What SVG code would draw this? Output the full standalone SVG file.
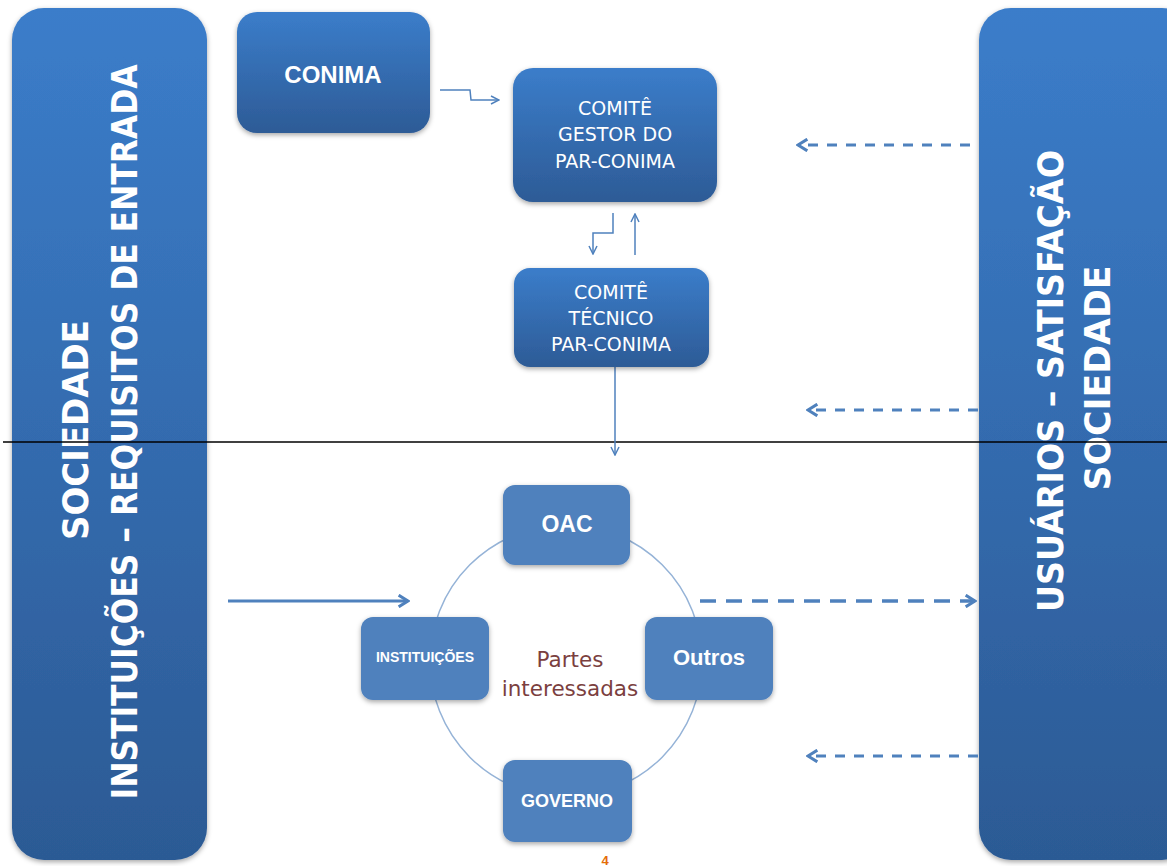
<svg xmlns="http://www.w3.org/2000/svg" width="1167" height="866" viewBox="0 0 1167 866">
<defs>
<linearGradient id="gBig" x1="0" y1="0" x2="0" y2="1">
<stop offset="0" stop-color="#3b7dca"/>
<stop offset="1" stop-color="#2c5a94"/>
</linearGradient>
<linearGradient id="gBox" x1="0" y1="0" x2="0" y2="1">
<stop offset="0" stop-color="#3b7dca"/>
<stop offset="1" stop-color="#2d5b96"/>
</linearGradient>
<filter id="sh" x="-10%" y="-10%" width="120%" height="120%">
<feDropShadow dx="0" dy="2" stdDeviation="2.5" flood-color="#000" flood-opacity="0.35"/>
</filter>
<marker id="open" viewBox="0 0 10 10" refX="9" refY="5" markerWidth="10" markerHeight="10" markerUnits="userSpaceOnUse" orient="auto">
<path d="M1,1 L9,5 L1,9" fill="none" stroke="#4f81bd" stroke-width="1.5"/>
</marker>
<marker id="chev" viewBox="0 0 12 12" refX="10" refY="6" markerWidth="14" markerHeight="14" markerUnits="userSpaceOnUse" orient="auto">
<path d="M2,1 L10,6 L2,11" fill="none" stroke="#4f81bd" stroke-width="2.6" stroke-linejoin="miter"/>
</marker>
</defs>
<style>
.big{fill:url(#gBig);filter:url(#sh)}
.box{fill:url(#gBox);filter:url(#sh)}
.flat{fill:#4f81bd;filter:url(#sh)}
.thin{font-family:"DejaVu Sans","Liberation Sans",sans-serif;font-size:19px;fill:#ffffff;text-anchor:middle;font-weight:normal}
.bold{font-family:"Liberation Sans","DejaVu Sans",sans-serif;font-weight:bold;fill:#ffffff;text-anchor:middle}
.side{font-family:"DejaVu Sans Condensed","DejaVu Sans","Liberation Sans",sans-serif;font-weight:bold;font-size:36px;fill:#ffffff;text-anchor:middle}
.conn{fill:none;stroke:#4f81bd;stroke-width:1.5}
.dash{fill:none;stroke:#4f81bd;stroke-width:3;stroke-dasharray:10 9}
</style>
<g id="panel-left">
<rect class="big" x="12" y="8" width="195" height="852" rx="32"/>
<text class="side" transform="translate(88,430) rotate(-90)" textLength="220" lengthAdjust="spacingAndGlyphs">SOCIEDADE</text>
<text class="side" transform="translate(137,432) rotate(-90)" textLength="735" lengthAdjust="spacingAndGlyphs">INSTITUIÇÕES – REQUISITOS DE ENTRADA</text>
</g>
<g id="panel-right">
<rect class="big" x="979" y="8" width="215" height="852" rx="32"/>
<text class="side" transform="translate(1063,381) rotate(-90)" textLength="462" lengthAdjust="spacingAndGlyphs">USUÁRIOS – SATISFAÇÃO</text>
<text class="side" transform="translate(1110,378) rotate(-90)" textLength="225" lengthAdjust="spacingAndGlyphs">SOCIEDADE</text>
</g>
<line x1="3" y1="442" x2="1167" y2="442" stroke="#000" stroke-width="1.5"/>
<g id="circle">
<circle cx="566" cy="661" r="136" fill="none" stroke="#95b3d7" stroke-width="1.5"/>
</g>
<g id="connectors">
<polyline class="conn" points="440,90 470,90 471,100 499,100" marker-end="url(#open)"/>
<polyline class="conn" points="613,213 613,233 593,233 593,254" marker-end="url(#open)"/>
<polyline class="conn" points="635,255 635,214" marker-end="url(#open)"/>
<polyline class="conn" points="615,367 615,455" marker-end="url(#open)"/>
<line class="dash" x1="970" y1="145" x2="798" y2="145" marker-end="url(#chev)"/>
<line class="dash" x1="978" y1="410" x2="808" y2="410" marker-end="url(#chev)"/>
<line class="dash" x1="978" y1="756" x2="808" y2="756" marker-end="url(#chev)"/>
<line x1="700" y1="601" x2="975" y2="601" fill="none" stroke="#4f81bd" stroke-width="3.5" stroke-dasharray="16 10" marker-end="url(#chev)"/>
<line x1="228" y1="601" x2="408" y2="601" fill="none" stroke="#4f81bd" stroke-width="3" marker-end="url(#chev)"/>
</g>
<g id="conima">
<rect class="box" x="237" y="12" width="193" height="121" rx="20"/>
<text class="bold" x="333" y="83" font-size="24">CONIMA</text>
</g>
<g id="comite-gestor">
<rect class="box" x="513" y="68" width="204" height="134" rx="20"/>
<text class="thin" x="615" y="115">COMITÊ</text>
<text class="thin" x="615" y="141">GESTOR DO</text>
<text class="thin" x="615" y="168">PAR-CONIMA</text>
</g>
<g id="comite-tecnico">
<rect class="box" x="514" y="268" width="195" height="99" rx="16"/>
<text class="thin" x="611" y="299">COMITÊ</text>
<text class="thin" x="611" y="325">TÉCNICO</text>
<text class="thin" x="611" y="351">PAR-CONIMA</text>
</g>
<g id="oac">
<rect class="flat" x="503" y="485" width="127" height="80" rx="12"/>
<text class="bold" x="567" y="532" font-size="23">OAC</text>
</g>
<g id="instituicoes">
<rect class="flat" x="361" y="617" width="128" height="83" rx="12"/>
<text class="bold" x="425" y="662" font-size="14">INSTITUIÇÕES</text>
</g>
<g id="outros">
<rect class="flat" x="645" y="617" width="128" height="83" rx="12"/>
<text class="bold" x="709" y="665" font-size="22">Outros</text>
</g>
<g id="governo">
<rect class="flat" x="503" y="760" width="129" height="82" rx="12"/>
<text class="bold" x="567" y="807" font-size="18">GOVERNO</text>
</g>
<g id="partes">
<text x="570" y="667" font-family="DejaVu Sans, Liberation Sans, sans-serif" font-size="21.5" fill="#7b3f3f" text-anchor="middle">Partes</text>
<text x="570" y="696" font-family="DejaVu Sans, Liberation Sans, sans-serif" font-size="21.5" fill="#7b3f3f" text-anchor="middle">interessadas</text>
</g>
<text x="605" y="865" font-family="Liberation Sans, sans-serif" font-size="13" font-weight="bold" fill="#e46c0a" text-anchor="middle">4</text>
</svg>
